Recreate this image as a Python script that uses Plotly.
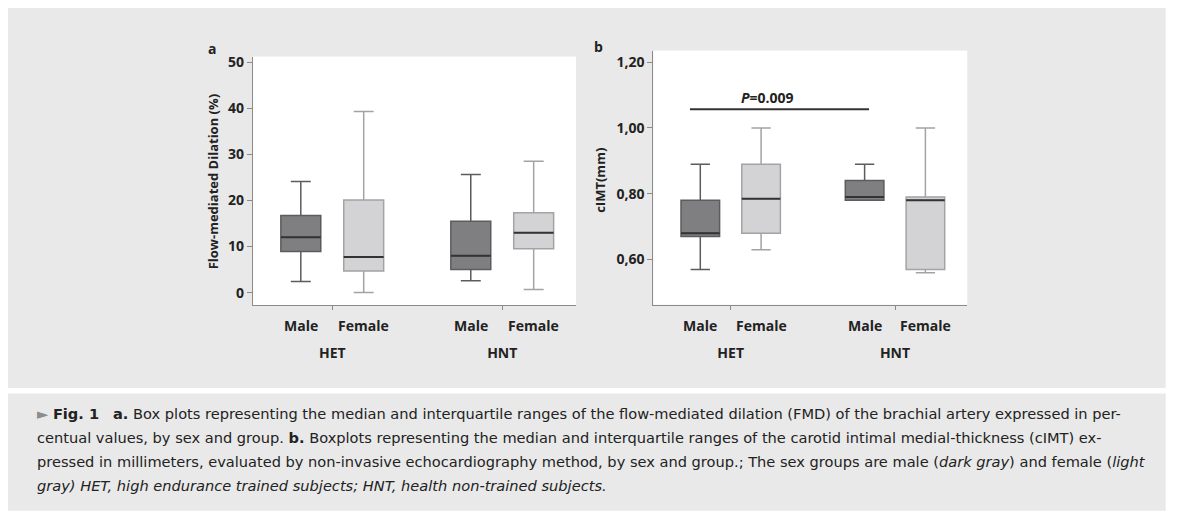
import plotly.graph_objects as go
from plotly.subplots import make_subplots

groups = ['HET', 'HNT']
sexes = ['Male', 'Female']

# panel a: flow-mediated dilation (%), values per group [HET, HNT]
fmd_male_low = [2.4, 2.6]
fmd_male_q1 = [8.9, 5.0]
fmd_male_med = [12.0, 8.0]
fmd_male_q3 = [16.7, 15.5]
fmd_male_high = [24.1, 25.6]

fmd_female_low = [0.0, 0.7]
fmd_female_q1 = [4.7, 9.5]
fmd_female_med = [7.7, 13.0]
fmd_female_q3 = [20.1, 17.3]
fmd_female_high = [39.3, 28.5]

# panel b: carotid intima-media thickness (mm)
cimt_male_low = [0.57, 0.78]
cimt_male_q1 = [0.67, 0.78]
cimt_male_med = [0.68, 0.79]
cimt_male_q3 = [0.78, 0.84]
cimt_male_high = [0.89, 0.89]

cimt_female_low = [0.63, 0.56]
cimt_female_q1 = [0.68, 0.57]
cimt_female_med = [0.785, 0.78]
cimt_female_q3 = [0.89, 0.79]
cimt_female_high = [1.00, 1.00]

p_text = 'P'
p_value = '0.009'
p_bar_y = 1.057

fmd_ticks = [0, 10, 20, 30, 40, 50]
cimt_ticks = [0.60, 0.80, 1.00, 1.20]

caption_lines = [
  '<span style="color:#8c8c8c">\u25ba</span> <b>Fig. 1</b>\u00a0\u00a0\u00a0<b>a.</b> Box plots representing the median and interquartile ranges of the flow-mediated dilation (FMD) of the brachial artery expressed in per-',
  'centual values, by sex and group. <b>b.</b> Boxplots representing the median and interquartile ranges of the carotid intimal medial-thickness (cIMT) ex-',
  'pressed in millimeters, evaluated by non-invasive echocardiography method, by sex and group.; The sex groups are male (<i>dark gray</i>) and female (<i>light</i>',
  '<i>gray) HET, high endurance trained subjects; HNT, health non-trained subjects.</i>',
]

# the page has an 8px body margin, so the figure sits at (8, 8)
W, H = 1161, 504
OX, OY = 8, 8

def px(x):
  return (x - OX) / W

def py(y):
  return 1 - (y - OY) / H

bg_gray = '#e9e9e9'
axis_gray = '#8a8a8a'
text_col = '#222222'
fill_cols = {'Male': '#7f7f81', 'Female': '#d3d3d5'}
line_cols = {'Male': '#5c5c5e', 'Female': '#a3a3a3'}
median_col = '#333333'
box_gap = 0.26
box_group_gap = 0.365
font_name = 'Open Sans'
caption_font = 'DejaVu Sans'

fig = make_subplots(rows=1, cols=2)

def add_boxes(col, sex, low, q1, med, q3, high):
  fig.add_trace(go.Box(x=groups, q1=q1, median=med, q3=q3, lowerfence=low, upperfence=high,
                       name=sex, offsetgroup=sex, fillcolor=fill_cols[sex],
                       line=dict(color=line_cols[sex], width=1.5), whiskerwidth=0.5,
                       hoverinfo='skip', showlegend=False), row=1, col=col)
  # darker median line drawn on top of the box
  fig.add_trace(go.Box(x=groups, q1=med, median=med, q3=med, lowerfence=med, upperfence=med,
                       name=sex, offsetgroup=sex, fillcolor='rgba(0,0,0,0)',
                       line=dict(color=median_col, width=2), whiskerwidth=0,
                       hoverinfo='skip', showlegend=False), row=1, col=col)

add_boxes(1, 'Male', fmd_male_low, fmd_male_q1, fmd_male_med, fmd_male_q3, fmd_male_high)
add_boxes(1, 'Female', fmd_female_low, fmd_female_q1, fmd_female_med, fmd_female_q3, fmd_female_high)
add_boxes(2, 'Male', cimt_male_low, cimt_male_q1, cimt_male_med, cimt_male_q3, cimt_male_high)
add_boxes(2, 'Female', cimt_female_low, cimt_female_q1, cimt_female_med, cimt_female_q3, cimt_female_high)

x_common = dict(type='category', showline=True, linecolor=axis_gray, linewidth=1,
                ticks='outside', ticklen=4, tickcolor=axis_gray, showgrid=False,
                tickfont=dict(family=font_name, size=14, color=text_col, weight='bold'),
                ticklabelstandoff=31, fixedrange=True)
y_common = dict(showline=True, linecolor=axis_gray, linewidth=1, ticks='outside', ticklen=5,
                tickcolor=axis_gray, showgrid=False, zeroline=False,
                tickfont=dict(family=font_name, size=14, color=text_col, weight='bold'),
                fixedrange=True)

fig.update_xaxes(x_common)
fig.update_yaxes(y_common)
fig.update_layout(
  xaxis=dict(domain=[px(252.7), px(576)], range=[-0.468, 1.434]),
  yaxis=dict(domain=[py(303), py(52)], range=[-2.7, 51.2], tickvals=fmd_ticks),
  xaxis2=dict(domain=[px(653.3), px(967.3)], range=[-0.471, 1.44]),
  yaxis2=dict(domain=[py(302.7), py(46)], range=[0.4625, 1.235], tickvals=cimt_ticks,
              tickformat='.2f'),
  separators=',.',
  boxmode='group', boxgap=box_gap, boxgroupgap=box_group_gap,
  width=W, height=H, margin=dict(l=0, r=0, t=0, b=0),
  paper_bgcolor=bg_gray, plot_bgcolor='white',
  font=dict(family=font_name, color=text_col),
)

# white strips between / around the two grey panels
for x0, y0, x1, y1 in [(1165.7, 0, 1200, 530), (0, 386.7, 1200, 392.3), (0, 510.7, 1200, 530)]:
  fig.add_shape(type='rect', xref='paper', yref='paper', x0=px(x0), x1=px(x1), y0=py(y0), y1=py(y1),
                fillcolor='white', line=dict(width=0), layer='below')

# Male / Female labels under each box
off = (1 - box_gap) / 4
for xr in ['x', 'x2']:
  for gi, g in enumerate(groups):
    for si, s in enumerate(sexes):
      fig.add_annotation(x=gi + (off if si else -off), y=py(324), xref=xr, yref='paper',
                         text=s, showarrow=False, xanchor='center', yanchor='middle',
                         font=dict(family=font_name, size=14, color=text_col, weight='bold'))

# axis titles and panel letters
label_font = dict(family=font_name, size=13, color=text_col, weight='bold')
fig.add_annotation(x=px(213), y=py(179), xref='paper', yref='paper', text='Flow-mediated Dilation (%)',
                   textangle=-90, showarrow=False, xanchor='center', yanchor='middle', font=label_font)
fig.add_annotation(x=px(600), y=py(177.5), xref='paper', yref='paper', text='cIMT(mm)',
                   textangle=-90, showarrow=False, xanchor='center', yanchor='middle', font=label_font)
fig.add_annotation(x=px(211.5), y=py(43.5), xref='paper', yref='paper', text='a', showarrow=False,
                   xanchor='center', yanchor='middle', font=dict(family=font_name, size=14, color=text_col, weight='bold'))
fig.add_annotation(x=px(598), y=py(42), xref='paper', yref='paper', text='b', showarrow=False,
                   xanchor='center', yanchor='middle', font=dict(family=font_name, size=14, color=text_col, weight='bold'))

# significance bar between HET and HNT males
fig.add_shape(type='line', xref='x2', yref='y2', x0=0 - off - 0.063, x1=1 - off + 0.027, y0=p_bar_y, y1=p_bar_y,
              line=dict(color=median_col, width=2))
fig.add_annotation(x=0.227, y=p_bar_y, xref='x2', yref='y2', yshift=12, text='<i>' + p_text + '</i>=' + p_value,
                   showarrow=False, xanchor='center', font=dict(family=font_name, size=14, color=text_col, weight='bold'))

# caption
for li, line in enumerate(caption_lines):
  fig.add_annotation(x=px(35), y=py(413 + 24.2 * li), xref='paper', yref='paper', text=line,
                     showarrow=False, xanchor='left', yanchor='middle', align='left',
                     font=dict(family=caption_font, size=14.6, color=text_col))

fig.write_html('out.html', config={'displayModeBar': False})
